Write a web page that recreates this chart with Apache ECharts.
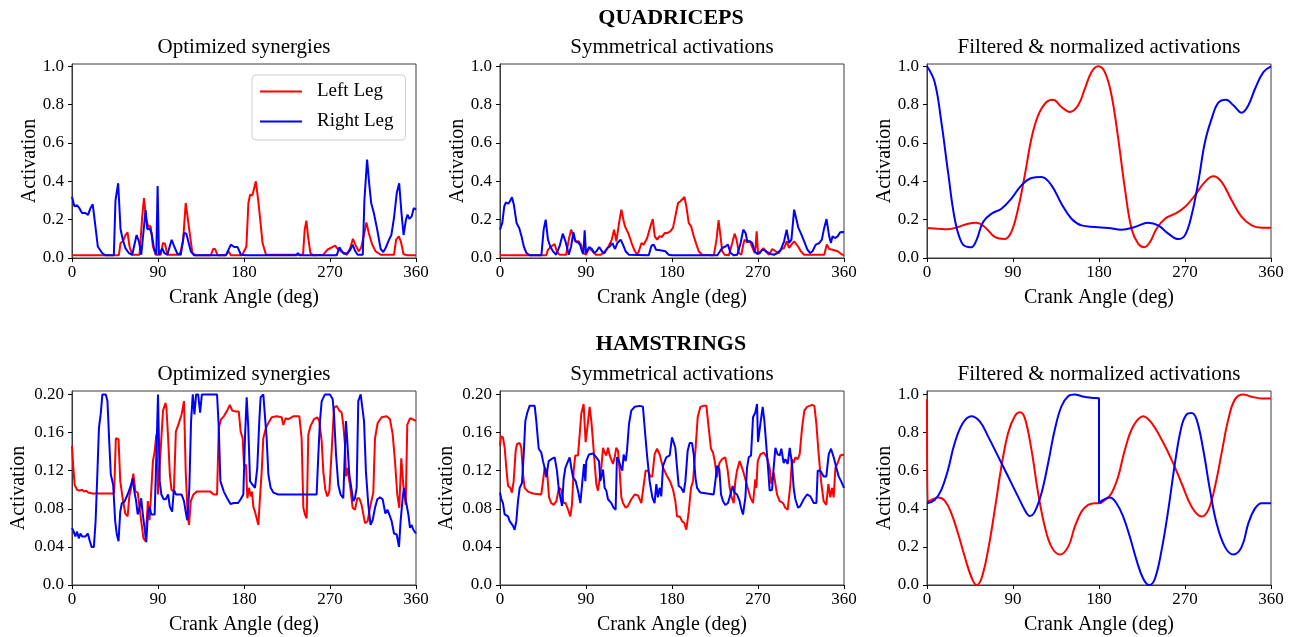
<!DOCTYPE html>
<html>
<head>
<meta charset="utf-8">
<title>Quadriceps / Hamstrings activations</title>
<script src="https://cdn.jsdelivr.net/npm/echarts@6/dist/echarts.min.js"></script>
<style>
  html, body { margin: 0; padding: 0; background: #fff; }
  #main { width: 1297px; height: 637px; }
</style>
</head>
<body>
<div id="main"></div>
<script>
// ---- data: [crank angle (deg), activation] ----

// QUADRICEPS - optimized synergies
var quadOptLeft = [[0,0.014],[49,0.014],[50.8,0.078],[53.2,0.087],[56,0.12],[58.1,0.134],[60.2,0.06],[63,0.017],[70.7,0.017],[73.5,0.217],[75.3,0.313],[77.7,0.2],[79.8,0.165],[82.3,0.165],[84.7,0.06],[87.5,0.017],[92.8,0.017],[95.2,0.078],[97.3,0.075],[99.8,0.017],[112,0.017],[113.8,0.035],[116.2,0.087],[119,0.287],[120.8,0.287],[123.2,0.13],[126,0.026],[129.5,0.014],[145.3,0.014],[147.7,0.047],[149.8,0.047],[152.3,0.014],[161,0.014],[163.8,0.035],[166.3,0.014],[178,0.014],[182.5,0.06],[184.6,0.287],[186.4,0.33],[188.8,0.327],[192.4,0.4],[194.8,0.304],[197,0.2],[199.4,0.078],[203,0.017],[241.8,0.017],[243.5,0.148],[245.3,0.195],[247,0.113],[249.5,0.026],[252.4,0.014],[263,0.017],[267.2,0.043],[275.3,0.064],[278.8,0.043],[284.1,0.026],[287.7,0.017],[291.2,0.052],[294,0.1],[296.5,0.07],[300,0.035],[302.5,0.052],[306,0.13],[308.1,0.186],[310.6,0.13],[314.1,0.07],[317.7,0.035],[323,0.017],[337,0.017],[339.2,0.096],[342,0.113],[344.1,0.087],[347,0.02],[351.2,0.014],[360,0.014]];
var quadOptRight = [[0,0.32],[2.5,0.27],[5.3,0.275],[7.7,0.26],[10.5,0.235],[14,0.235],[16.8,0.225],[19.3,0.26],[21.7,0.28],[24.5,0.165],[27,0.06],[31.5,0.026],[35,0.014],[43.8,0.014],[45.5,0.3],[48.3,0.39],[50.8,0.15],[53.2,0.095],[56,0.05],[59.5,0.026],[63,0.017],[67.6,0.12],[70,0.087],[72.5,0.017],[77,0.25],[78.8,0.15],[81.2,0.155],[83.3,0.13],[85.8,0.05],[88.2,0.017],[89.6,0.375],[91,0.017],[94.5,0.05],[96.6,0.026],[99.8,0.017],[104.3,0.095],[107,0.06],[110.3,0.022],[113.8,0.017],[117.3,0.13],[119.7,0.127],[124.3,0.035],[127.8,0.014],[161,0.014],[166.3,0.07],[169.8,0.057],[173.3,0.057],[176.8,0.017],[182,0.014],[234.7,0.014],[236.4,0.026],[238.2,0.014],[277,0.014],[279.9,0.056],[282.4,0.035],[284.8,0.022],[288.4,0.026],[291.2,0.043],[293.7,0.07],[296.5,0.035],[299,0.017],[304.3,0.017],[306,0.3],[308.8,0.513],[311.3,0.374],[313.1,0.287],[315.9,0.235],[319.4,0.148],[323,0.047],[325.8,0.031],[328.2,0.052],[331.8,0.096],[334.2,0.12],[337,0.21],[339.9,0.34],[342.4,0.39],[344.8,0.235],[347,0.12],[349.5,0.2],[351.2,0.226],[353,0.204],[355.5,0.217],[357.6,0.26],[360,0.252]];

// QUADRICEPS - symmetrical activations
var quadSymLeft = [[0,0.014],[48.4,0.014],[50.2,0.043],[53.7,0.06],[57.1,0.073],[59.5,0.035],[62.3,0.017],[69.2,0.017],[72,0.096],[74.4,0.148],[76.8,0.113],[78.9,0.087],[82.4,0.087],[84.8,0.07],[87.2,0.026],[90,0.017],[93.4,0.052],[96.9,0.035],[100.3,0.017],[105.5,0.017],[109,0.03],[113.5,0.06],[117,0.096],[119.4,0.148],[121.8,0.087],[124.6,0.183],[127,0.252],[129.1,0.2],[130.8,0.165],[134.2,0.13],[137.7,0.078],[141.2,0.035],[143.6,0.017],[145.3,0.035],[148.1,0.078],[150.5,0.07],[154,0.104],[157.4,0.165],[159.9,0.203],[162,0.113],[164.4,0.096],[166.8,0.113],[169.5,0.11],[172.3,0.13],[175,0.13],[178.2,0.139],[181,0.157],[183.5,0.217],[186.3,0.287],[188.8,0.296],[190.5,0.292],[193,0.318],[195,0.27],[197.5,0.183],[200,0.165],[202.8,0.113],[205.6,0.07],[208,0.035],[211.5,0.017],[223.8,0.014],[226.6,0.096],[228.7,0.197],[230.8,0.113],[232.5,0.035],[235,0.017],[239.5,0.014],[243,0.078],[245.5,0.127],[247.6,0.096],[250,0.026],[252.5,0.017],[254.6,0.07],[256,0.096],[258.8,0.082],[261.6,0.087],[264.4,0.052],[266.5,0.026],[267.5,0.06],[268.6,0.139],[270,0.026],[272.8,0.035],[275.6,0.052],[278,0.035],[281.5,0.017],[285,0.047],[288.5,0.035],[292,0.026],[294.5,0.047],[297.3,0.052],[300,0.087],[302.5,0.052],[305,0.07],[307.8,0.087],[309.5,0.096],[312,0.06],[314.8,0.035],[318.3,0.017],[339.3,0.017],[342,0.07],[344.5,0.047],[348,0.043],[353.3,0.035],[356.8,0.022],[360,0.014]];
var quadSymRight = [[0,0.148],[2.4,0.183],[4.5,0.27],[6.2,0.29],[8.7,0.283],[10.4,0.296],[12.5,0.317],[14.5,0.278],[17.3,0.183],[20.1,0.157],[22.5,0.113],[24.9,0.06],[27.7,0.026],[31.1,0.014],[43.3,0.014],[45.7,0.148],[47.8,0.2],[50.2,0.096],[52.6,0.06],[55.4,0.035],[58.8,0.017],[62.3,0.06],[65.7,0.127],[68.5,0.087],[72,0.017],[74.4,0.06],[76.8,0.134],[78.9,0.087],[81.3,0.082],[83.7,0.07],[85.8,0.035],[87.2,0.021],[88.6,0.144],[90,0.026],[93.4,0.057],[96.2,0.047],[98.6,0.026],[101,0.035],[103.8,0.057],[106.6,0.035],[109,0.023],[112.5,0.052],[114.9,0.06],[117.6,0.078],[120.4,0.047],[122.8,0.078],[126.3,0.096],[128.7,0.07],[131.5,0.035],[134.9,0.017],[155.7,0.014],[158.5,0.064],[160.9,0.07],[163.3,0.043],[167.8,0.04],[173,0.035],[176.5,0.017],[180,0.014],[227.3,0.014],[229,0.026],[232.5,0.052],[236,0.06],[238.5,0.07],[241.3,0.026],[244.8,0.014],[248.3,0.017],[251.8,0.078],[254.6,0.148],[257,0.13],[258.8,0.087],[261.6,0.087],[264,0.078],[266.5,0.035],[269.3,0.021],[272,0.026],[274.5,0.043],[277,0.04],[279.8,0.03],[283.3,0.021],[286.8,0.017],[290.3,0.026],[293.8,0.043],[297.3,0.087],[300,0.148],[302.5,0.078],[305,0.096],[307.8,0.252],[310.3,0.2],[312.3,0.157],[314.8,0.13],[318.3,0.087],[321.8,0.043],[324.6,0.026],[327,0.035],[330.5,0.07],[334,0.078],[336.8,0.096],[339.3,0.157],[341.7,0.203],[344.5,0.113],[346.3,0.078],[348,0.113],[350.5,0.104],[353.3,0.113],[356,0.134],[358.5,0.136],[360,0.134]];

// QUADRICEPS - filtered & normalized
var quadFiltLeft = [[0,0.157],[11.5,0.153],[22,0.15],[32.5,0.162],[43,0.179],[51.7,0.184],[60.4,0.162],[70.9,0.11],[81.4,0.099],[88.3,0.136],[95.3,0.257],[102.3,0.431],[109.3,0.623],[116.3,0.744],[125,0.814],[132,0.826],[140.7,0.788],[149.5,0.762],[158.2,0.797],[165.2,0.883],[172.2,0.97],[179.1,1.0],[186.1,0.97],[193.1,0.849],[200.1,0.623],[207.1,0.362],[214,0.153],[221,0.075],[227.3,0.056],[233.3,0.083],[240.2,0.153],[249,0.205],[259.5,0.231],[269.9,0.266],[280.4,0.327],[290.9,0.397],[299.6,0.426],[308.3,0.397],[318.8,0.301],[329.3,0.214],[339.8,0.17],[350.2,0.158],[360,0.158]];
var quadFiltRight = [[0,1.0],[8,0.918],[15,0.71],[22,0.449],[29,0.205],[36,0.083],[43,0.057],[46.4,0.056],[51.7,0.092],[58.7,0.188],[67.4,0.231],[77.9,0.257],[88.3,0.31],[98.8,0.379],[109.3,0.417],[119.8,0.423],[130.3,0.379],[140.7,0.283],[151.2,0.205],[161.7,0.17],[175.6,0.162],[189.6,0.157],[203.6,0.148],[217.5,0.162],[231.5,0.184],[242,0.17],[252.5,0.127],[262.9,0.099],[269.9,0.118],[276.9,0.223],[283.9,0.397],[290.9,0.605],[297.9,0.727],[304.9,0.81],[312.9,0.826],[320.6,0.797],[329.3,0.758],[336.3,0.797],[343.3,0.883],[352,0.97],[360,1.0]];

// HAMSTRINGS - optimized synergies
var hamOptLeft = [[0,0.146],[1.4,0.123],[2.8,0.105],[5.3,0.1],[7.8,0.099],[10.6,0.1],[12.7,0.098],[14.8,0.099],[16.9,0.097],[21.2,0.096],[44.1,0.096],[45.9,0.154],[48.7,0.153],[50.5,0.109],[53,0.091],[55.8,0.075],[58.2,0.072],[60,0.093],[62.5,0.105],[64.2,0.117],[66.4,0.098],[68.8,0.097],[70.6,0.095],[72.4,0.067],[74.8,0.049],[77,0.046],[79.4,0.088],[81.2,0.068],[83,0.07],[84.7,0.13],[86.5,0.14],[88.3,0.158],[90,0.095],[91.8,0.095],[93.5,0.154],[95.3,0.183],[97.8,0.191],[98.8,0.186],[100.6,0.154],[102.4,0.116],[104.1,0.1],[106.6,0.098],[108.7,0.161],[111.2,0.168],[114.7,0.179],[117.2,0.193],[119,0.119],[121.1,0.072],[122.5,0.063],[124.3,0.088],[127.1,0.095],[130.6,0.098],[144.7,0.098],[148.3,0.095],[151.8,0.095],[153.6,0.165],[156,0.174],[158.9,0.177],[162.4,0.183],[165.2,0.189],[167.7,0.183],[171.2,0.182],[174.5,0.182],[176.5,0.161],[178.6,0.154],[180,0.126],[182.1,0.126],[183.5,0.091],[185.2,0.102],[187,0.093],[188.4,0.098],[189.8,0.082],[191.5,0.077],[193.2,0.079],[195,0.063],[196.7,0.091],[198.5,0.119],[200.2,0.154],[203,0.165],[205.5,0.17],[209,0.176],[214.2,0.177],[219.4,0.176],[221.1,0.168],[223.6,0.175],[226.4,0.174],[231.6,0.177],[237.9,0.177],[240.3,0.154],[242.1,0.081],[243.8,0.074],[245.6,0.07],[247.3,0.158],[249.7,0.167],[253.2,0.174],[256.7,0.176],[258.8,0.172],[261.3,0.151],[263,0.119],[265.1,0.1],[267.2,0.093],[269.3,0.098],[271.7,0.14],[274.2,0.186],[277,0.188],[279.7,0.183],[282.2,0.181],[283.9,0.168],[285.7,0.147],[286.7,0.114],[288.1,0.123],[290.9,0.105],[293.7,0.081],[296.1,0.079],[298.6,0.091],[300.7,0.091],[303.1,0.084],[306.6,0.065],[309.4,0.067],[311.8,0.081],[315.3,0.097],[317.1,0.154],[319.9,0.17],[324,0.176],[329.3,0.177],[332.8,0.174],[335.6,0.158],[338,0.13],[340.4,0.095],[342.5,0.081],[344.6,0.133],[346.7,0.105],[349.2,0.084],[350.9,0.168],[353.7,0.175],[356.5,0.174],[360,0.172]];
var hamOptRight = [[0,0.06],[1.8,0.056],[3.5,0.051],[5.3,0.056],[7.1,0.049],[8.8,0.054],[10.6,0.051],[12.4,0.053],[14.1,0.051],[16.6,0.054],[18.4,0.047],[20.5,0.04],[22.9,0.04],[24.7,0.067],[26.5,0.116],[28.2,0.165],[30,0.179],[31.8,0.2],[35.3,0.2],[37.1,0.193],[38.8,0.154],[40.6,0.116],[43.1,0.105],[45.2,0.067],[46.9,0.053],[48.7,0.046],[50.5,0.077],[52.2,0.086],[54.7,0.087],[58.2,0.095],[61.8,0.105],[63.5,0.112],[65.3,0.098],[67.1,0.088],[68.8,0.074],[70.6,0.081],[72.4,0.091],[74.1,0.074],[75.9,0.06],[77.7,0.045],[79.4,0.074],[81.2,0.082],[83,0.074],[84.7,0.075],[86.5,0.074],[88.3,0.137],[90,0.2],[91.8,0.109],[93.5,0.095],[96,0.09],[98.1,0.09],[100.6,0.095],[102.4,0.082],[104.8,0.077],[106.6,0.1],[108.7,0.095],[114.7,0.095],[117.2,0.088],[119.3,0.075],[120.7,0.068],[122.8,0.102],[124.6,0.172],[126.4,0.2],[128.1,0.179],[129.9,0.2],[132,0.2],[134.1,0.181],[135.9,0.2],[151.8,0.2],[153.6,0.165],[155.3,0.109],[158.9,0.098],[162.4,0.091],[165.9,0.085],[169.4,0.086],[173.7,0.086],[176.5,0.09],[179.3,0.095],[181,0.154],[182.8,0.197],[184.5,0.165],[186.3,0.109],[189.1,0.105],[191.5,0.102],[193.9,0.123],[196,0.172],[197.4,0.197],[200.2,0.2],[202,0.2],[203.7,0.154],[205.5,0.116],[207.9,0.102],[210.7,0.097],[215.9,0.095],[235.1,0.095],[236.8,0.093],[238.6,0.095],[256,0.095],[257.8,0.137],[259.5,0.172],[261.3,0.193],[264.7,0.2],[270,0.2],[272.8,0.195],[274.2,0.179],[276.3,0.137],[278.7,0.105],[281.1,0.095],[283.9,0.091],[285.7,0.091],[286.7,0.172],[288.1,0.151],[290.2,0.116],[292.3,0.102],[294.4,0.088],[296.1,0.091],[297.9,0.102],[299.6,0.193],[302.1,0.2],[303.8,0.2],[305.6,0.172],[307.6,0.119],[310.1,0.084],[312.5,0.063],[314.6,0.068],[317.1,0.081],[319.5,0.09],[322.3,0.092],[325.1,0.09],[327.9,0.075],[330,0.079],[332.1,0.074],[334.5,0.067],[337,0.054],[339.8,0.053],[342.2,0.04],[343.9,0.067],[346,0.091],[347.4,0.102],[349.5,0.088],[352,0.074],[353.7,0.06],[355.4,0.063],[357.2,0.058],[360,0.054]];

// HAMSTRINGS - symmetrical activations
var hamSymLeft = [[0,0.146],[1,0.156],[3.1,0.155],[4.9,0.144],[6.6,0.123],[8.4,0.104],[10.8,0.102],[12.5,0.097],[14.3,0.109],[16.4,0.141],[17.8,0.148],[20.6,0.149],[22.3,0.144],[24.1,0.116],[25.8,0.102],[29.3,0.098],[34.5,0.096],[43.2,0.095],[45,0.109],[46.7,0.123],[49.2,0.12],[51.3,0.092],[53.7,0.086],[56.1,0.084],[59,0.088],[61.7,0.102],[64.2,0.1],[66.6,0.086],[68.7,0.086],[71.2,0.079],[73.6,0.072],[75.3,0.084],[77.1,0.12],[78.8,0.136],[81.6,0.136],[83.4,0.158],[85.1,0.18],[87.5,0.19],[89.6,0.15],[91.4,0.165],[93.8,0.187],[95.6,0.172],[97.3,0.151],[99.1,0.127],[100.8,0.106],[102.5,0.099],[104.3,0.1],[106,0.123],[107.8,0.144],[109.5,0.139],[111.3,0.136],[113,0.144],[114.8,0.136],[116.5,0.136],[118.2,0.127],[120,0.134],[121.7,0.144],[123.5,0.141],[125.2,0.12],[127,0.092],[128.7,0.086],[131.5,0.081],[133.9,0.083],[137.4,0.09],[140.9,0.095],[144.4,0.094],[147.9,0.086],[149.6,0.086],[152.4,0.12],[154.9,0.12],[157.3,0.114],[159.4,0.114],[161.8,0.137],[164.3,0.143],[167.1,0.137],[170.6,0.123],[174.5,0.115],[178.3,0.108],[181.1,0.1],[183.5,0.088],[185.3,0.072],[188.1,0.072],[190.5,0.067],[192.9,0.065],[195,0.058],[197.5,0.077],[199.9,0.102],[202,0.109],[204.5,0.141],[206.9,0.176],[209.7,0.187],[212.5,0.188],[216,0.188],[218.4,0.165],[220.8,0.143],[222.9,0.139],[224.7,0.13],[227.1,0.113],[229.6,0.128],[232.4,0.132],[235.8,0.134],[238.3,0.12],[240.4,0.102],[242.1,0.093],[244.6,0.086],[246.3,0.109],[248,0.12],[250.8,0.13],[252.2,0.132],[254.3,0.12],[256.8,0.111],[259.2,0.102],[262,0.092],[264.8,0.086],[266.2,0.084],[267.2,0.111],[268.3,0.102],[269.7,0.13],[272.5,0.137],[276,0.139],[279.4,0.134],[282.2,0.123],[284,0.106],[286.4,0.118],[288.2,0.106],[289.9,0.095],[292.7,0.088],[296.2,0.086],[298.6,0.081],[301.1,0.079],[303.9,0.106],[305.6,0.132],[307.3,0.128],[309.1,0.134],[311.5,0.132],[313.6,0.137],[316.1,0.165],[318.5,0.183],[321.3,0.187],[326.5,0.189],[329,0.188],[331.1,0.169],[333.5,0.137],[336,0.109],[338.7,0.088],[341.5,0.084],[343.6,0.106],[345.7,0.092],[347.5,0.102],[349.2,0.092],[351,0.123],[353.4,0.128],[356.2,0.136],[360,0.137]];
var hamSymRight = [[0,0.097],[1.4,0.09],[3.1,0.086],[4.9,0.074],[6.6,0.072],[8.4,0.072],[10.1,0.067],[11.9,0.065],[13.6,0.062],[15.3,0.058],[17.1,0.067],[18.8,0.088],[20.6,0.102],[23,0.107],[24.8,0.137],[26.5,0.172],[28.6,0.181],[31,0.188],[36.3,0.188],[38,0.172],[40.5,0.143],[43.2,0.139],[45,0.13],[46.7,0.123],[48.5,0.113],[50.9,0.13],[53.7,0.132],[57.2,0.134],[59.6,0.12],[61.4,0.102],[63.1,0.092],[64.9,0.083],[66.6,0.111],[68.4,0.123],[71.2,0.13],[72.9,0.134],[74.6,0.123],[76.4,0.113],[79.2,0.109],[81.6,0.099],[84.1,0.086],[86.1,0.084],[87.9,0.127],[89.3,0.109],[90.3,0.13],[93.1,0.137],[97.3,0.138],[100.8,0.134],[103.6,0.13],[105,0.109],[107.8,0.121],[109.5,0.102],[111.3,0.099],[113,0.09],[114.8,0.088],[116.5,0.086],[118.9,0.081],[121,0.079],[122.4,0.134],[124.5,0.13],[126.6,0.123],[128,0.12],[129.4,0.137],[131.5,0.13],[132.9,0.141],[135,0.169],[137.4,0.183],[140.9,0.187],[146.2,0.188],[149.6,0.187],[151.4,0.165],[153.8,0.137],[156.6,0.109],[159.4,0.092],[161.8,0.086],[163.6,0.106],[165.3,0.092],[167.1,0.102],[168.8,0.093],[170.6,0.125],[174,0.134],[177.6,0.136],[180,0.155],[181.8,0.155],[183.5,0.144],[185.3,0.123],[187,0.104],[189.5,0.102],[192.2,0.097],[194,0.109],[196.4,0.141],[198.5,0.149],[201,0.149],[202.7,0.137],[204.5,0.113],[206.2,0.102],[209.7,0.097],[216.7,0.096],[223.6,0.095],[225.4,0.109],[227.1,0.125],[229.6,0.121],[231.3,0.095],[233.4,0.088],[235.8,0.084],[238.6,0.086],[241.1,0.095],[243.5,0.104],[245.3,0.097],[248,0.095],[250.8,0.088],[252.2,0.081],[254.3,0.074],[256.8,0.092],[258.5,0.123],[260.3,0.134],[262.7,0.136],[264.8,0.176],[267.2,0.181],[269,0.19],[270,0.15],[272.5,0.169],[274.9,0.187],[276.7,0.172],[278.7,0.146],[280.5,0.123],[282.2,0.099],[284.7,0.1],[286.4,0.123],[288.2,0.144],[290.6,0.137],[292.7,0.136],[294.4,0.143],[296.9,0.128],[298.6,0.132],[301.1,0.127],[303.2,0.144],[305.6,0.127],[307.3,0.102],[309.1,0.09],[311.9,0.081],[314.3,0.083],[317.8,0.09],[321.3,0.095],[324.8,0.093],[328.3,0.086],[331.1,0.086],[332.5,0.12],[335.2,0.12],[338.7,0.114],[341.5,0.114],[344,0.137],[346.4,0.143],[349.2,0.134],[352,0.123],[354.4,0.114],[356.9,0.109],[360,0.102]];

// HAMSTRINGS - filtered & normalized
var hamFiltLeft = [[0,0.975],[0.7,0.437],[4.5,0.446],[11.5,0.459],[18.5,0.443],[25.5,0.376],[32.5,0.27],[39.5,0.148],[46.4,0.042],[51.7,0.0],[56.9,0.033],[63.9,0.183],[70.9,0.394],[77.9,0.622],[84.9,0.798],[91.8,0.886],[97.1,0.907],[102.3,0.877],[109.3,0.71],[116.3,0.482],[123.3,0.306],[130.3,0.2],[139,0.16],[147.7,0.2],[154.7,0.306],[161.7,0.385],[168.7,0.42],[175.6,0.429],[180,0.429],[186.1,0.446],[193.1,0.482],[200.1,0.569],[207.1,0.71],[215.8,0.833],[226.3,0.886],[235,0.851],[245.5,0.763],[256,0.657],[266.4,0.534],[276.9,0.411],[287.4,0.359],[294.4,0.394],[301.4,0.517],[308.3,0.692],[315.3,0.868],[322.3,0.974],[331,1.0],[339.8,0.988],[350.2,0.979],[360,0.979]];
var hamFiltRight = [[0,0.429],[8,0.446],[15,0.499],[22,0.605],[29,0.745],[37.7,0.851],[46.4,0.886],[55.2,0.859],[63.9,0.78],[74.4,0.675],[84.9,0.569],[95.3,0.464],[102.3,0.394],[107.6,0.362],[112.8,0.385],[119.8,0.482],[126.8,0.64],[133.7,0.815],[140.7,0.938],[147.7,0.991],[154.7,1.0],[161.7,0.991],[172.2,0.982],[180,0.979],[180,0.429],[184.4,0.446],[191.4,0.459],[198.3,0.429],[205.3,0.359],[212.3,0.253],[219.3,0.13],[226.3,0.033],[232.6,0.0],[238.5,0.033],[245.5,0.183],[252.5,0.394],[259.5,0.64],[266.4,0.833],[271.7,0.895],[276.9,0.903],[282.2,0.868],[289.1,0.71],[296.1,0.499],[303.1,0.323],[311.8,0.2],[320.6,0.16],[329.3,0.2],[336.3,0.323],[343.3,0.402],[350.2,0.429],[360,0.429]];

// ---- ticks / texts ----
var angleTicks = [0, 90, 180, 270, 360];
var unitTicks = [0, 0.2, 0.4, 0.6, 0.8, 1.0];
var hamRawTicks = [0, 0.04, 0.08, 0.12, 0.16, 0.20];
var panelTitles = ['Optimized synergies', 'Symmetrical activations', 'Filtered & normalized activations'];
var rowTitles = ['QUADRICEPS', 'HAMSTRINGS'];

var FONT = '"Liberation Serif", "Times New Roman", serif';
var RED = '#ff0000';
var BLUE = '#0000ff';

var chart = echarts.init(document.getElementById('main'));

// panel layout (pixels)
var colLefts = [72, 500, 927];
var rowTops = [64, 391];
var plotW = 344;
var plotH = 194;

// each panel: row, col, y-range, ticks, decimals, y-name gap, left data, right data, smooth
var panels = [
    { r: 0, c: 0, max: 1.012, ticks: unitTicks, dec: 1, gap: 32, left: quadOptLeft, right: quadOptRight, smooth: false },
    { r: 0, c: 1, max: 1.012, ticks: unitTicks, dec: 1, gap: 32, left: quadSymLeft, right: quadSymRight, smooth: false },
    { r: 0, c: 2, max: 1.012, ticks: unitTicks, dec: 1, gap: 32, left: quadFiltLeft, right: quadFiltRight, smooth: true },
    { r: 1, c: 0, max: 0.2036, ticks: hamRawTicks, dec: 2, gap: 43, left: hamOptLeft, right: hamOptRight, smooth: false },
    { r: 1, c: 1, max: 0.2036, ticks: hamRawTicks, dec: 2, gap: 43, left: hamSymLeft, right: hamSymRight, smooth: false },
    { r: 1, c: 2, max: 1.018, ticks: unitTicks, dec: 1, gap: 32, left: hamFiltLeft, right: hamFiltRight, smooth: true }
];

var grids = [], xAxes = [], yAxes = [], series = [], graphics = [];

panels.forEach(function (p, i) {
    grids.push({
        left: colLefts[p.c], top: rowTops[p.r], width: plotW, height: plotH,
        show: true, borderColor: '#3a3a3a', borderWidth: 1, backgroundColor: 'transparent'
    });
    xAxes.push({
        type: 'value', gridIndex: i, min: 0, max: 360, interval: 90,
        name: 'Crank Angle (deg)', nameLocation: 'middle', nameGap: 30, nameMoveOverlap: false,
        nameTextStyle: { fontFamily: FONT, fontSize: 20, color: '#000' },
        axisLine: { show: true, lineStyle: { color: '#3a3a3a', width: 1 } },
        axisTick: { show: true, inside: false, length: 4, lineStyle: { color: '#000' } },
        axisLabel: { fontFamily: FONT, fontSize: 17, color: '#000', margin: 6 },
        splitLine: { show: false }
    });
    yAxes.push({
        type: 'value', gridIndex: i, min: 0, max: p.max,
        name: 'Activation', nameLocation: 'middle', nameRotate: 90, nameGap: p.gap, nameMoveOverlap: false,
        nameTextStyle: { fontFamily: FONT, fontSize: 20, color: '#000' },
        axisLine: { show: true, lineStyle: { color: '#3a3a3a', width: 1 } },
        axisTick: { show: true, inside: false, length: 4, customValues: p.ticks, lineStyle: { color: '#000' } },
        axisLabel: {
            fontFamily: FONT, fontSize: 17, color: '#000', margin: 8,
            customValues: p.ticks,
            // matplotlib prints the zero tick as "0.0" on every panel
            formatter: (function (d) {
                return function (v) { return v === 0 ? '0.0' : v.toFixed(d); };
            })(p.dec)
        },
        splitLine: { show: false }
    });
    [['Left Leg', p.left, RED], ['Right Leg', p.right, BLUE]].forEach(function (s) {
        series.push({
            name: s[0], type: 'line', xAxisIndex: i, yAxisIndex: i,
            data: s[1], showSymbol: false, symbol: 'none',
            smooth: p.smooth ? 0.4 : false,
            lineStyle: { color: s[2], width: 2 },
            itemStyle: { color: s[2] }
        });
    });
    // panel title
    graphics.push({
        type: 'text', x: colLefts[p.c] + plotW / 2, y: rowTops[p.r] - 17,
        style: { text: panelTitles[p.c], font: '21px ' + FONT, fill: '#000', textAlign: 'center', textVerticalAlign: 'middle' }
    });
});

// row headings
graphics.push({
    type: 'text', x: 671, y: 18,
    style: { text: rowTitles[0], font: 'bold 22px ' + FONT, fill: '#000', textAlign: 'center', textVerticalAlign: 'middle' }
});
graphics.push({
    type: 'text', x: 671, y: 344,
    style: { text: rowTitles[1], font: 'bold 22px ' + FONT, fill: '#000', textAlign: 'center', textVerticalAlign: 'middle' }
});

var option = {
    animation: false,
    backgroundColor: '#fff',
    grid: grids,
    xAxis: xAxes,
    yAxis: yAxes,
    series: series,
    graphic: graphics,
    legend: {
        data: ['Left Leg', 'Right Leg'],
        left: 252, top: 75, orient: 'vertical',
        icon: 'rect', itemWidth: 42, itemHeight: 2, itemGap: 11,
        padding: [7, 12, 9, 8],
        backgroundColor: '#fff', borderColor: '#cfcfcf', borderWidth: 1, borderRadius: 4,
        textStyle: { fontFamily: FONT, fontSize: 19, color: '#000', padding: [0, 0, 0, 10] },
        selectedMode: false
    }
};

chart.setOption(option);
</script>
</body>
</html>
